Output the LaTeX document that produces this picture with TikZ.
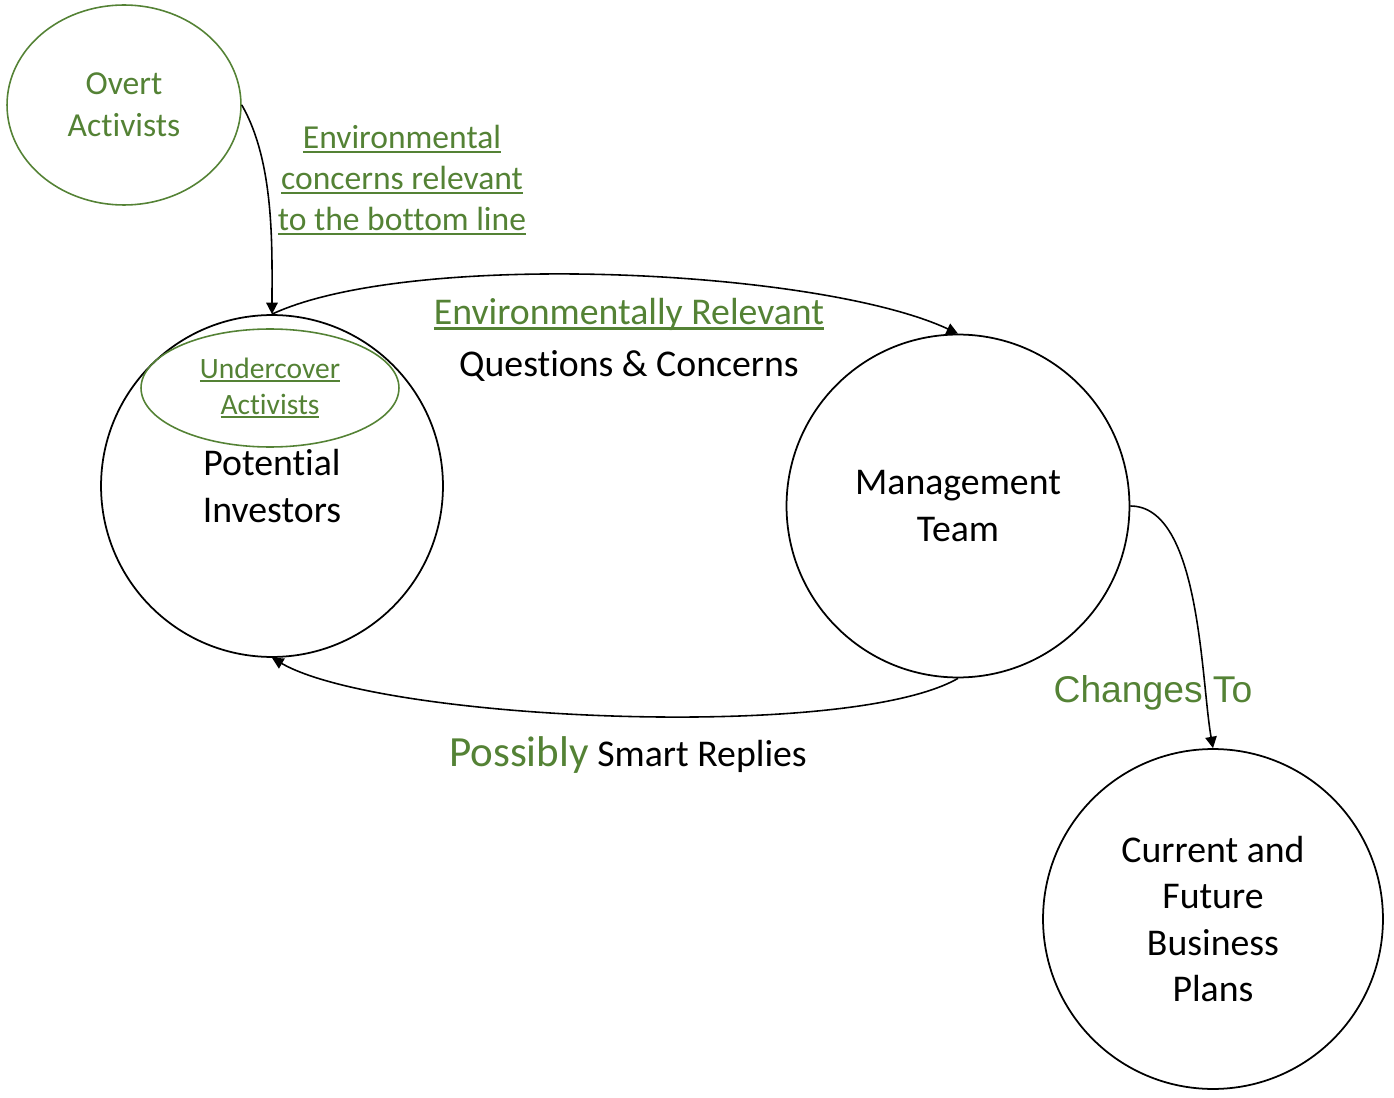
\documentclass[tikz,border=0pt]{standalone}
\usepackage{xcolor}
\usepackage{fontspec}
\setmainfont[Ligatures=NoCommon]{Carlito}
\newfontfamily\arialfont{Liberation Sans}
\usepackage{tikz}
\usetikzlibrary{shapes.geometric,arrows.meta}
\definecolor{actgreen}{HTML}{548235}
\newcommand{\grul}[1]{\setbox0\hbox{#1}\rlap{\rule[-0.13em]{\wd0}{0.06em}}\box0}
\tikzset{
  party/.style={circle,draw,line width=1pt,minimum size=6.84cm,align=center,
    font=\fontsize{21.5}{26.5}\selectfont},
  activist/.style={ellipse,draw=actgreen,line width=0.9pt,text=actgreen,align=center},
  flow/.style={-{Triangle[length=6.5pt,width=6.5pt]},line width=0.9pt}
}

\begin{document}
\begin{tikzpicture}[x=0.02cm,y=-0.02cm]
\useasboundingbox (0,0) rectangle (1394,1098);
\node[activist,minimum width=4.68cm,minimum height=4cm,
  font=\fontsize{19.1}{23.9}\selectfont] (overt) at (124,105) {Overt\\Activists};
\node[party] (inv) at (272,486) {Potential\\Investors};
\node[activist,minimum width=5.16cm,minimum height=2.36cm,
  font=\fontsize{16.8}{20.5}\selectfont] (under) at (270,388) {\grul{Undercover}\\\grul{Activists}};
\node[party,minimum size=6.86cm] (mgmt) at (958,506) {Management\\Team};
\node[party,minimum size=6.8cm] (plans) at (1213,919) {Current and\\Future\\Business\\Plans};
\node[align=center,text=actgreen,font=\fontsize{19.1}{23.3}\selectfont] (envlbl) at (402,180)
  {\grul{Environmental}\\\grul{concerns relevant}\\\grul{to the bottom line}};
\node[align=center,font=\fontsize{21.5}{29.6}\selectfont] (relq) at (629,340)
  {\textcolor{actgreen}{\grul{Environmentally Relevant}}\\Questions \& Concerns};
\node[text=actgreen,font=\arialfont\fontsize{21.2}{25}\selectfont] (chg) at (1153,693) {Changes To};
\node[font=\fontsize{21.5}{26}\selectfont] (reply) at (628,755)
  {\textcolor{actgreen}{\fontsize{24.5}{28}\selectfont Possibly} Smart Replies};
\draw[flow] (overt.east) to[out=-60,in=90,looseness=0.8] (inv.north);
\draw[flow] (inv.north) to[out=25,in=155,looseness=0.57] (mgmt.north);
\draw[flow] (mgmt.south) to[out=-150,in=-30,looseness=0.47] (inv.south);
\draw[flow] (mgmt.east) to[out=0,in=100,looseness=0.7] (plans.north);
\end{tikzpicture}
\end{document}
